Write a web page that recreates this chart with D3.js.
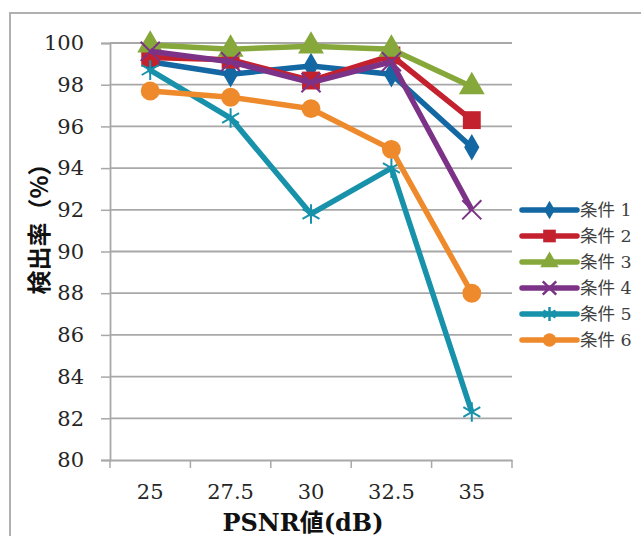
<!DOCTYPE html>
<html>
<head>
<meta charset="utf-8">
<script src="https://cdn.jsdelivr.net/npm/d3@7"></script>
<style>
  body { margin: 0; background: #fff; }
  svg { display: block; }
</style>
</head>
<body>
<svg id="chart"></svg>
<script>
// values
const psnr = ["25", "27.5", "30", "32.5", "35"];
const yTicks = [80, 82, 84, 86, 88, 90, 92, 94, 96, 98, 100];
const names = ["条件 1", "条件 2", "条件 3", "条件 4", "条件 5", "条件 6"];
const cond1 = [99.1, 98.5, 98.9, 98.5, 95.0];
const cond2 = [99.3, 99.2, 98.2, 99.4, 96.3];
const cond3 = [99.9, 99.7, 99.85, 99.7, 97.9];
const cond4 = [99.6, 99.1, 98.1, 99.1, 92.0];
const cond5 = [98.7, 96.4, 91.8, 94.0, 82.3];
const cond6 = [97.7, 97.4, 96.85, 94.9, 88.0];

const colors = ["#1367a3", "#c4212f", "#86a83a", "#7c3387", "#1792aa", "#ee8a2b"];
const shapes = ["diamond", "square", "triangle", "times", "asterisk", "circle"];
const series = [cond1, cond2, cond3, cond4, cond5, cond6];

const W = 641, H = 536;
const margin = { top: 43, right: 129, bottom: 76, left: 110 };
const width = W - margin.left - margin.right;
const height = H - margin.top - margin.bottom;

const svg = d3.select("#chart").attr("width", W).attr("height", H);

// outer frame (only top + left edges are visible in the crop)
svg.append("path")
  .attr("d", `M10,${H} V13 H${W}`)
  .attr("fill", "none")
  .attr("stroke", "#b0b0b0")
  .attr("stroke-width", 2);

const g = svg.append("g").attr("transform", `translate(${margin.left},${margin.top})`);

const x = d3.scaleBand().domain(psnr).range([0, width]);
const y = d3.scaleLinear().domain([80, 100]).range([height, 0]);

// gridlines
g.append("g")
  .selectAll("line")
  .data(yTicks.slice(1))
  .join("line")
  .attr("x1", 0)
  .attr("x2", width)
  .attr("y1", d => y(d))
  .attr("y2", d => y(d))
  .attr("stroke", "#a8a8a8")
  .attr("stroke-width", 1.8);

// y axis
const yAxis = g.append("g")
  .call(d3.axisLeft(y).tickValues(yTicks).tickSize(9).tickPadding(17));
yAxis.select(".domain").attr("stroke", "#a8a8a8").attr("stroke-width", 1.8);
yAxis.selectAll(".tick line").attr("stroke", "#a8a8a8").attr("stroke-width", 1.5);
yAxis.selectAll("text")
  .attr("font-family", "'DejaVu Serif', serif")
  .attr("font-size", 21)
  .attr("fill", "#262626");

// x axis: labels centred in bands, ticks on band edges
const xAxis = g.append("g")
  .attr("transform", `translate(0,${height})`)
  .call(d3.axisBottom(x).tickSize(0).tickPadding(24));
xAxis.select(".domain").attr("stroke", "#a8a8a8").attr("stroke-width", 1.8);
xAxis.selectAll("text")
  .attr("font-family", "'DejaVu Serif', serif")
  .attr("font-size", 21)
  .attr("fill", "#262626");
xAxis.selectAll(".edge")
  .data(psnr.map(d => x(d)).concat([width]))
  .join("line")
  .attr("class", "edge")
  .attr("x1", d => d)
  .attr("x2", d => d)
  .attr("y1", 0)
  .attr("y2", 8)
  .attr("stroke", "#a8a8a8")
  .attr("stroke-width", 1.5);

// axis titles
svg.append("text")
  .attr("x", margin.left + width / 2 - 8)
  .attr("y", 531)
  .attr("text-anchor", "middle")
  .attr("font-family", "'DejaVu Serif', 'Noto Sans CJK JP', serif")
  .attr("font-weight", "bold")
  .attr("font-size", 24)
  .attr("fill", "#111")
  .text("PSNR値(dB)");

svg.append("text")
  .attr("transform", "translate(48,223) rotate(-90)")
  .attr("text-anchor", "middle")
  .attr("font-family", "'Noto Sans CJK JP', sans-serif")
  .attr("font-weight", "bold")
  .attr("font-size", 24)
  .attr("fill", "#111")
  .text("検出率（%）");

function symbolFor(shape, big) {
  const k = big ? 1 : 0.5;
  const map = {
    diamond: [d3.symbolDiamond, 200],
    square: [d3.symbolSquare, 320],
    triangle: [d3.symbolTriangle, 290],
    times: [d3.symbolTimes, 240],
    asterisk: [d3.symbolAsterisk, 270],
    circle: [d3.symbolCircle, 280]
  };
  const [type, size] = map[shape];
  return d3.symbol().type(type).size(size * k)();
}

function drawMarker(sel, i, big) {
  const shape = shapes[i];
  const stroked = shape === "times" || shape === "asterisk";
  sel.append("path")
    .attr("d", symbolFor(shape, big))
    .attr("fill", stroked ? "none" : colors[i])
    .attr("stroke", stroked ? colors[i] : "none")
    .attr("stroke-width", stroked ? (big ? 2 : 2.5) : 0);
}

const line = d3.line()
  .x((d, j) => x(psnr[j]) + x.bandwidth() / 2)
  .y(d => y(d));

series.forEach((vals, i) => {
  const sg = g.append("g");
  sg.append("path")
    .datum(vals)
    .attr("d", line)
    .attr("fill", "none")
    .attr("stroke", colors[i])
    .attr("stroke-width", 5.5)
    .attr("stroke-linejoin", "round");
  vals.forEach((v, j) => {
    const m = sg.append("g")
      .attr("transform", `translate(${x(psnr[j]) + x.bandwidth() / 2},${y(v)})`);
    drawMarker(m, i, true);
  });
});

// legend
const legend = svg.append("g").attr("transform", "translate(522,210)");
names.forEach((name, i) => {
  const row = legend.append("g").attr("transform", `translate(0,${i * 26})`);
  row.append("line")
    .attr("x1", 0).attr("x2", 55)
    .attr("stroke", colors[i])
    .attr("stroke-width", 5.5)
    .attr("stroke-linecap", "round");
  const m = row.append("g").attr("transform", "translate(27.5,0)");
  drawMarker(m, i, false);
  row.append("text")
    .attr("x", 58)
    .attr("y", 6)
    .attr("font-family", "'DejaVu Serif', 'Noto Sans CJK JP', serif")
    .attr("font-size", 17.5)
    .attr("fill", "#404040")
    .text(name);
});
</script>
</body>
</html>
